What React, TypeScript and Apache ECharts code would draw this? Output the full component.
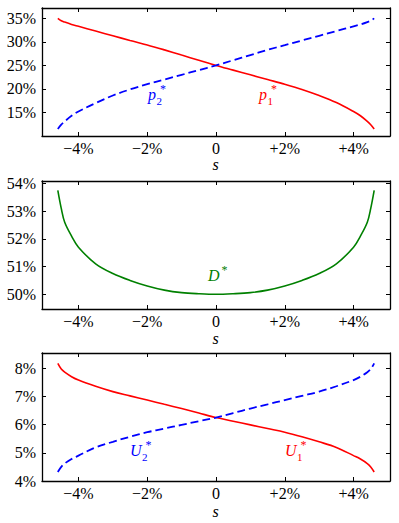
import React, { useEffect, useRef } from "react";
import * as echarts from "echarts";

// spread s (in %)
const sValues = [-4.6, -4.5, -4.4, -4.2, -4.0, -3.5, -3.0, -2.5, -2.0, -1.5, -1.0, -0.5, 0, 0.5, 1.0, 1.5, 2.0, 2.5, 3.0, 3.5, 4.0, 4.2, 4.4, 4.5, 4.6];

// panel 1: prices p1*, p2* (%)
const p1 = [35.0, 34.5, 34.2, 33.7, 33.3, 32.3, 31.3, 30.3, 29.35, 28.3, 27.2, 26.1, 25.0, 24.0, 23.0, 22.0, 21.0, 19.9, 18.6, 17.1, 15.2, 14.3, 13.1, 12.4, 11.5];
const p2 = [11.5, 12.4, 13.1, 14.3, 15.2, 17.0, 18.6, 19.9, 21.0, 22.0, 23.0, 24.0, 25.0, 26.1, 27.2, 28.3, 29.3, 30.3, 31.3, 32.3, 33.3, 33.7, 34.2, 34.5, 35.0];

// panel 2: D* (%)
const dStar = [53.75, 53.1, 52.6, 52.1, 51.7, 51.1, 50.75, 50.5, 50.3, 50.15, 50.06, 50.02, 50.0, 50.02, 50.06, 50.15, 50.3, 50.5, 50.75, 51.1, 51.7, 52.1, 52.6, 53.1, 53.75];

// panel 3: U1*, U2* (%)
const u1 = [8.17, 7.97, 7.86, 7.7, 7.58, 7.36, 7.17, 7.02, 6.87, 6.72, 6.57, 6.41, 6.25, 6.12, 5.99, 5.86, 5.73, 5.57, 5.39, 5.19, 4.9, 4.78, 4.62, 4.5, 4.32];
const u2 = [4.32, 4.5, 4.62, 4.78, 4.9, 5.19, 5.39, 5.57, 5.73, 5.86, 5.99, 6.12, 6.25, 6.41, 6.57, 6.72, 6.87, 7.02, 7.17, 7.36, 7.58, 7.7, 7.86, 7.97, 8.17];

// ticks
const xTicks = [-4, -2, 0, 2, 4];
const yTicks1 = [15, 20, 25, 30, 35];
const yTicks2 = [50, 51, 52, 53, 54];
const yTicks3 = [4, 5, 6, 7, 8];

const FONT = '"Liberation Serif", "Times New Roman", serif';
const RED = "#ff0000";
const BLUE = "#0000ff";
const GREEN = "#008000";

const xFmt = (v: number) => (v === 0 ? "0" : v < 0 ? "\u2212" + Math.abs(v) + "%" : "+" + v + "%");
const yFmt = (v: number) => v + "%";

export default function App() {
  const ref = useRef<HTMLDivElement>(null);
  useEffect(() => {
    if (!ref.current) return;
    const chart = echarts.init(ref.current, null, { renderer: "svg" });

    const grids = [
      { left: 42, top: 8, width: 348, height: 128 },
      { left: 42, top: 181, width: 348, height: 128 },
      { left: 42, top: 353, width: 348, height: 128 },
    ];
    const yRanges = [
      { min: 10.0, max: 37.2, ticks: yTicks1 },
      { min: 49.47, max: 54.09, ticks: yTicks2 },
      { min: 4.0, max: 8.54, ticks: yTicks3 },
    ];
    const xMargins = [4, 4.5, 4];

    const lineStyleAxis = { show: true, lineStyle: { color: "#000", width: 1.3 } };
    const tickStyle = (vals: number[]) => ({
      show: true,
      inside: true,
      length: 4,
      customValues: vals,
      lineStyle: { color: "#000", width: 1 },
    });

    const xAxis: any[] = [];
    const yAxis: any[] = [];
    grids.forEach((_, i) => {
      xAxis.push({
        type: "value",
        gridIndex: i,
        min: -5.06,
        max: 5.06,
        position: "bottom",
        axisLine: { ...lineStyleAxis, onZero: false },
        axisTick: tickStyle(xTicks),
        splitLine: { show: false },
        axisLabel: {
          customValues: xTicks,
          formatter: xFmt,
          fontFamily: FONT,
          fontSize: 16,
          color: "#000",
          margin: xMargins[i],
        },
      });
      xAxis.push({
        type: "value",
        gridIndex: i,
        min: -5.06,
        max: 5.06,
        position: "top",
        axisLine: { ...lineStyleAxis, onZero: false },
        axisTick: tickStyle(xTicks),
        splitLine: { show: false },
        axisLabel: { show: false },
      });
      const yr = yRanges[i];
      yAxis.push({
        type: "value",
        gridIndex: i,
        min: yr.min,
        max: yr.max,
        position: "left",
        axisLine: { ...lineStyleAxis, onZero: false },
        axisTick: tickStyle(yr.ticks),
        splitLine: { show: false },
        axisLabel: {
          customValues: yr.ticks,
          formatter: yFmt,
          fontFamily: FONT,
          fontSize: 16,
          color: "#000",
          margin: 6,
        },
      });
      yAxis.push({
        type: "value",
        gridIndex: i,
        min: yr.min,
        max: yr.max,
        position: "right",
        axisLine: { ...lineStyleAxis, onZero: false },
        axisTick: tickStyle(yr.ticks),
        splitLine: { show: false },
        axisLabel: { show: false },
      });
    });

    const mk = (vals: number[]) => sValues.map((s, i) => [s, vals[i]]);
    const line = (name: string, vals: number[], grid: number, color: string, dashed: boolean) => ({
      name,
      type: "line",
      xAxisIndex: grid * 2,
      yAxisIndex: grid * 2,
      data: mk(vals),
      showSymbol: false,
      smooth: 0.35,
      lineStyle: { color, width: dashed ? 1.8 : 1.6, type: dashed ? [8, 4] : "solid" },
      silent: true,
    });

    const txt = (x: number, y: number, text: string, color: string, size: number, italic: boolean, align = "left") => ({
      type: "text",
      x,
      y,
      silent: true,
      style: {
        text,
        fill: color,
        font: (italic ? "italic " : "") + size + "px " + FONT,
        textAlign: align,
        textVerticalAlign: "middle",
      },
    });
    const label = (x: number, y: number, main: string, sub: string, color: string, mainW: number) => {
      const arr: any[] = [txt(x, y, main, color, 16, true)];
      if (sub) arr.push(txt(x + mainW + 0.5, y + 6.5, sub, color, 11, false));
      arr.push(txt(x + mainW + (sub ? 4 : 0.5), y - 5, "*", color, 12, false));
      return arr;
    };

    const graphic: any[] = [
      ...label(148, 94, "p", "2", BLUE, 8),
      ...label(259, 94, "p", "1", RED, 8),
      ...label(208, 275, "D", "", GREEN, 13),
      ...label(130, 450, "U", "2", BLUE, 11.5),
      ...label(285, 450, "U", "1", RED, 11.5),
      txt(215.7, 164.5, "s", "#000", 16, true, "center"),
      txt(215.7, 338, "s", "#000", 16, true, "center"),
      txt(215.7, 511.5, "s", "#000", 16, true, "center"),
    ];

    chart.setOption({
      animation: false,
      backgroundColor: "#fff",
      grid: grids,
      xAxis,
      yAxis,
      series: [
        line("p1*", p1, 0, RED, false),
        line("p2*", p2, 0, BLUE, true),
        line("D*", dStar, 1, GREEN, false),
        line("U1*", u1, 2, RED, false),
        line("U2*", u2, 2, BLUE, true),
      ],
      graphic,
    });
    return () => chart.dispose();
  }, []);
  return <div ref={ref} style={{ position: "absolute", left: 0, top: 0, width: 399, height: 523 }} />;
}
